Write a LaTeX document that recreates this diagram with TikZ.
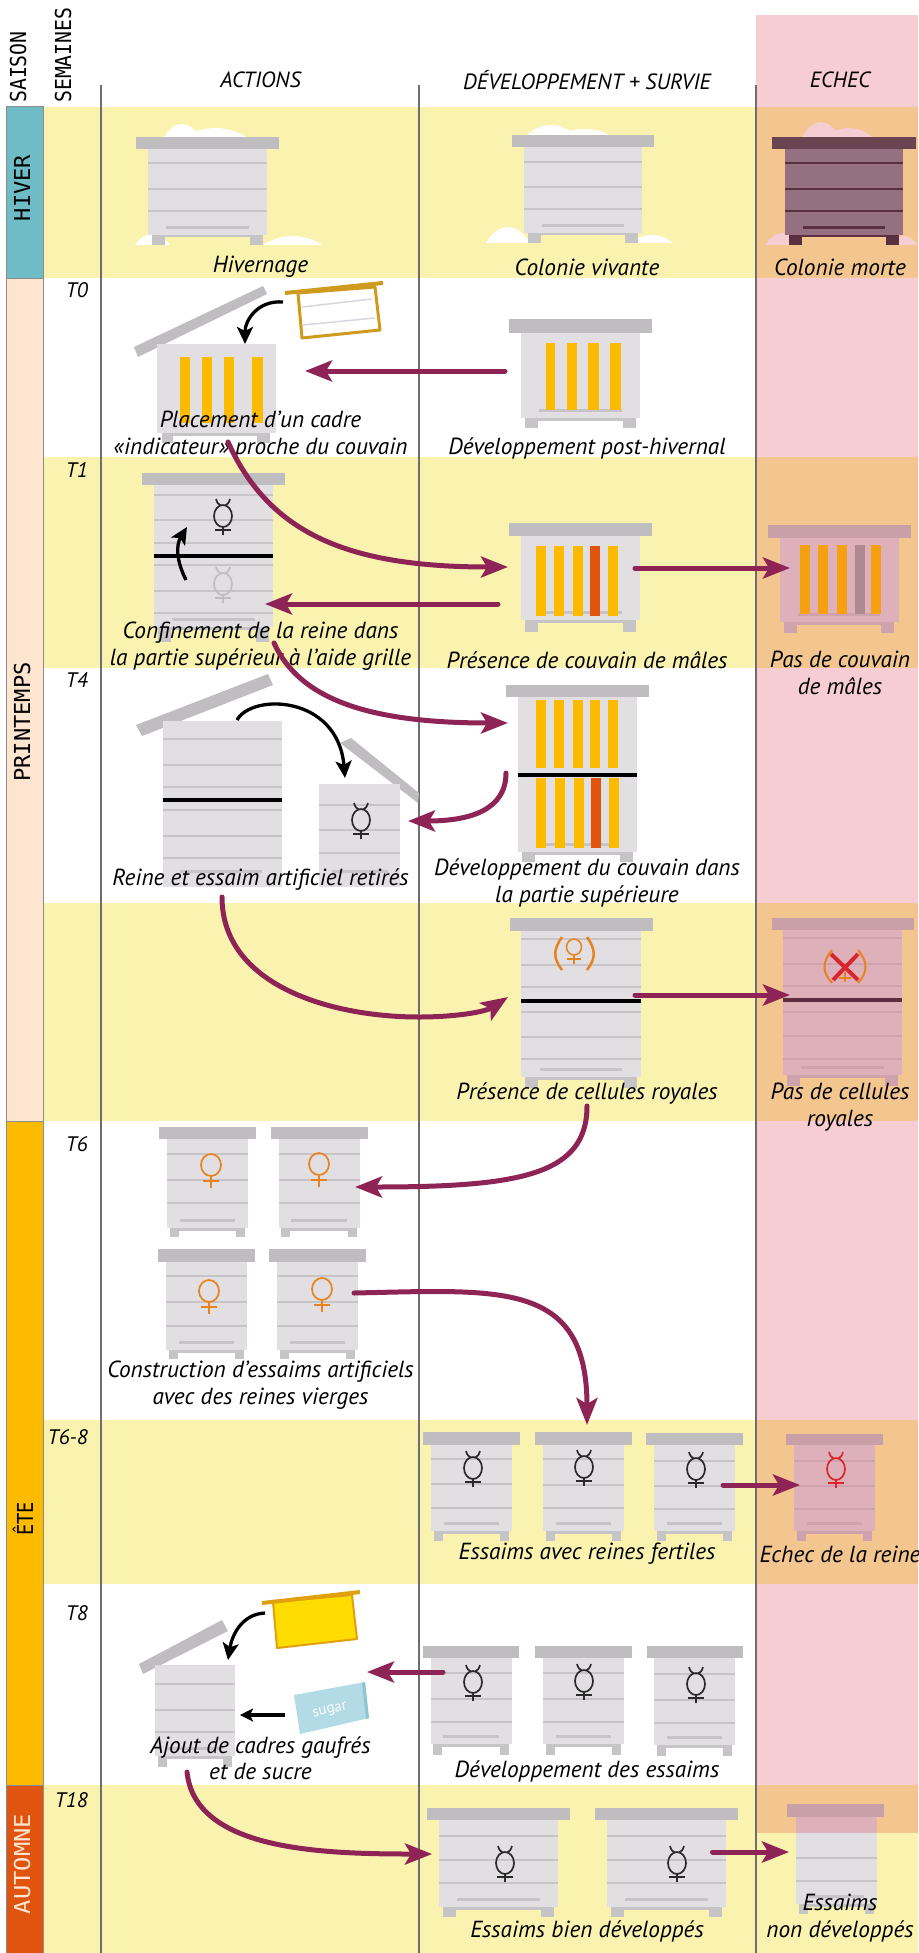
\documentclass[tikz,border=0pt]{standalone}
\usepackage{fontspec}
\usetikzlibrary{arrows.meta}
\newfontfamily\labf{PT Sans}
\newfontfamily\seasonf{DejaVu Sans Mono}
\newfontfamily\seasonn[FakeStretch=0.9]{DejaVu Sans Mono}
\newfontfamily\seasonw[FakeStretch=1.08]{DejaVu Sans Mono}
\newfontfamily\seasonc[FakeStretch=0.85]{DejaVu Sans Mono}
\definecolor{bandyellow}{HTML}{FAF3B0}
\definecolor{colpink}{HTML}{F5CDD2}
\definecolor{colorange}{HTML}{F3C58F}
\definecolor{purplearr}{HTML}{8E2455}
\definecolor{goldbar}{HTML}{FDBB00}
\definecolor{redbar}{HTML}{E05410}
\definecolor{hbody}{HTML}{E1DFE1}
\definecolor{hroof}{HTML}{BFBDBF}
\definecolor{hline}{HTML}{C6C4C6}
\definecolor{pbody}{HTML}{DDB0BA}
\definecolor{proof}{HTML}{C99FA8}
\definecolor{pline}{HTML}{CFA3AE}
\definecolor{dbody}{HTML}{947080}
\definecolor{droof}{HTML}{6A4450}
\definecolor{dline}{HTML}{5A3040}
\definecolor{orangesign}{HTML}{E8821E}
\definecolor{vline}{HTML}{6E6E70}
\definecolor{hbarteal}{HTML}{6FBCC6}
\definecolor{hbarpeach}{HTML}{FDE5D0}
\definecolor{goldframe}{HTML}{CF9B1E}
\definecolor{framegrey}{HTML}{D8D4E0}
\definecolor{orangebar}{HTML}{F5A010}
\definecolor{mauvebar}{HTML}{B08890}
\definecolor{crossred}{HTML}{D9262E}
\definecolor{waxyellow}{HTML}{FFDD00}
\definecolor{framegold}{HTML}{E0A010}
\definecolor{sugarblue}{HTML}{B3DBE6}
\definecolor{sugarside}{HTML}{8FC5D2}
\definecolor{signdark}{HTML}{2A2A2A}
\def\hvB{hbody}\def\hvR{hroof}\def\hvL{hline}
\tikzset{
  lab/.style={font=\labf\itshape\fontsize{23.3}{26.5}\selectfont,align=center,inner sep=0pt,text=black},
  hdrlab/.style={font=\labf\itshape\fontsize{22}{26}\selectfont,inner sep=0pt,text=black},
  weeklab/.style={font=\labf\itshape\fontsize{21}{26}\selectfont,anchor=east,inner sep=0pt},
  seasonlab/.style={font=\seasonf\fontsize{22}{25}\selectfont,rotate=90,inner sep=0pt},
  seasonbar/.style={draw=black!45,line width=1pt},
  parr/.style={draw=purplearr,line width=5pt,line cap=round,-{Stealth[length=27pt,width=21pt,inset=6pt]}},
  karr/.style={draw=black,line width=3.3pt,-{Stealth[length=17pt,width=16pt,inset=4pt]}},
  signline/.style={line width=1.7pt},
  gridline/.style={draw=vline,line width=1.5pt}
}
% cx, roof top, roof bottom, roof half width, body half width, body bottom, feet bottom, line list
\newcommand{\hive}[8]{%
  \fill[\hvB] ({#1-#5},#3) rectangle ({#1+#5},#6);
  \foreach \l in {#8} \fill[\hvL] ({#1-#5},{\l-1}) rectangle ({#1+#5},{\l+1});
  \fill[\hvL] ({#1-.69*#5},{#6-9}) rectangle ({#1+.69*#5},{#6-6});
  \fill[\hvL] ({#1-.93*#5},#6) rectangle ({#1+.93*#5},{#6+2.5});
  \fill[\hvL] ({#1-.93*#5},#6) rectangle ({#1-.71*#5},#7);
  \fill[\hvL] ({#1+.93*#5},#6) rectangle ({#1+.71*#5},#7);
  \fill[\hvR] ({#1-#4},#2) rectangle ({#1+#4},#3);
}
\newcommand{\hivebar}[5]{\fill[#5] (#1,#3) rectangle (#2,#4);}
\newcommand{\snowbump}[5]{\fill[#5] (#1,#3) .. controls ({#1+.3*(#2-#1)},{#3-1.33*#4}) and ({#2-.3*(#2-#1)},{#3-1.33*#4}) .. (#2,#3) -- cycle;}
\newcommand{\workersign}[3]{%
  \draw[#3,signline] (#1,{#2+17}) ellipse [x radius=9,y radius=11];
  \draw[#3,signline] ({#1-7},#2) .. controls ({#1-6},{#2+4}) and ({#1-4},{#2+6}) .. ({#1-2},{#2+6.5});
  \draw[#3,signline] ({#1+7},#2) .. controls ({#1+6},{#2+4}) and ({#1+4},{#2+6}) .. ({#1+2},{#2+6.5});
  \draw[#3,signline] (#1,{#2+28}) -- (#1,{#2+36});
  \draw[#3,signline] ({#1-8},{#2+31}) -- ({#1+8},{#2+31});
}
\newcommand{\femalesign}[3]{%
  \draw[#3,signline] (#1,{#2+11}) ellipse [x radius=10,y radius=11];
  \draw[#3,signline] (#1,{#2+22}) -- (#1,{#2+34});
  \draw[#3,signline] ({#1-8},{#2+27}) -- ({#1+8},{#2+27});
}
\begin{document}
\begin{tikzpicture}[x=1pt,y=-1pt]
\useasboundingbox (0,0) rectangle (918,1953);
\fill[white] (0,0) rectangle (918,1953);
% pink column
\fill[colpink] (756,15) rectangle (918,1785);
% bands
\foreach \a/\b in {107/278,457/668,903/1121,1420/1584,1785/1953}
  \fill[bandyellow] (43,\a) rectangle (756,\b);
\foreach \a/\b in {107/278,457/668,903/1121,1420/1584,1785/1833}
  \fill[colorange] (756,\a) rectangle (918,\b);
\fill[bandyellow] (756,1833) rectangle (918,1953);
% season bars
\draw[seasonbar,fill=hbarteal] (6,107) rectangle (43,278);
\draw[seasonbar,fill=hbarpeach] (6,278) rectangle (43,1121);
\draw[seasonbar,fill=goldbar] (6,1121) rectangle (43,1785);
\draw[seasonbar,fill=redbar] (6,1785) rectangle (43,1953);
\node[seasonlab,anchor=west,font=\seasonn\fontsize{22}{25}\selectfont] (saison) at (18,103) {SAISON};
\node[seasonlab,anchor=west,font=\seasonn\fontsize{22}{25}\selectfont] (semaines) at (63,103) {SEMAINES};
\node[seasonlab] (hiver) at (22,188) {HIVER};
\node[seasonlab] (printemps) at (22,722) {PRINTEMPS};
\node[seasonlab,font=\seasonc\fontsize{22}{25}\selectfont] (ete) at (23,1519) {ÊTE};
\node[seasonlab,text=hbarpeach,font=\seasonw\fontsize{22}{25}\selectfont] (automne) at (22,1864) {AUTOMNE};
% grid lines
\draw[gridline] (101,85) -- (101,1953);
\draw[gridline] (419,85) -- (419,1953);
\draw[gridline] (756,85) -- (756,1953);
% HIVER
\snowbump{164}{200}{137}{13}{white}\snowbump{185}{246}{137}{9}{white}
\snowbump{135}{170}{245}{11}{white}\snowbump{263}{322}{245}{9}{white}
\hive{207.5}{137}{149}{71.5}{59.5}{235}{245}{163,189,211}
\snowbump{527}{575}{135}{10}{white}\snowbump{560}{609}{135}{6}{white}
\snowbump{486}{530}{243}{16}{white}\snowbump{630}{673}{243}{8}{white}
\hive{583}{135}{147}{71}{59}{233}{243}{162,187,209}
\begin{scope}
\def\hvB{dbody}\def\hvR{droof}\def\hvL{dline}
\snowbump{802}{840}{137}{15}{colpink}\snowbump{825}{872}{137}{9}{colpink}
\snowbump{765}{800}{245}{12}{colpink}\snowbump{890}{918}{245}{9}{colpink}
\hive{844}{137}{149}{72}{59}{235}{245}{163,189,211}
\end{scope}
% T0
\fill[hroof] (134,347) -- (263,286) -- (267,294) -- (138,357) -- cycle;
\fill[hbody] (157,344) rectangle (276,433);
\fill[hline] (162,433) rectangle (173,443);
\fill[hline] (257,433) rectangle (270,443);
\fill[hline] (162,433) rectangle (270,436);
\hivebar{180}{190}{357}{423}{goldbar}\hivebar{202}{212}{357}{423}{goldbar}
\hivebar{224}{234}{357}{423}{goldbar}\hivebar{252}{263}{357}{423}{goldbar}
\filldraw[fill=white,draw=goldframe,line width=3pt,line join=round] (298,293) -- (375,287) -- (380,330) -- (302,338) -- cycle;
\draw[draw=goldframe,line width=4pt] (285,293) -- (383,283);
\draw[draw=framegrey,line width=1.5pt] (302,307) -- (372,299);
\draw[draw=framegrey,line width=1.5pt] (303,325) -- (375,318);
\coordinate (t0frame) at (283,302);
\coordinate (t0hive) at (245,344);
\draw[karr] (t0frame) .. controls (258,300) and (245,320) .. (t0hive);
\hive{580.5}{319}{333}{71.5}{59.5}{418}{428}{}
\hivebar{546}{555}{343}{410}{goldbar}\hivebar{567}{577}{343}{410}{goldbar}
\hivebar{588}{599}{343}{410}{goldbar}\hivebar{610}{621}{343}{410}{goldbar}
% T1
\hive{213.5}{473}{485}{71.5}{59.5}{627}{642}{495,520,543,565,591,613}
\hivebar{154}{273}{554}{558}{black}
\workersign{223}{499}{signdark}
\workersign{223}{567}{hroof}
\coordinate (t1a) at (186,580);
\coordinate (t1b) at (187,527);
\draw[karr] (t1a) .. controls (176,560) and (176,545) .. (t1b);
\hive{580.5}{523}{536}{71.5}{59.5}{620}{632}{}
\hivebar{536}{546}{546}{616}{goldbar}\hivebar{554}{564}{546}{616}{goldbar}
\hivebar{573}{583}{546}{616}{goldbar}\hivebar{590}{600}{546}{616}{redbar}\hivebar{608}{618}{546}{616}{goldbar}
\begin{scope}
\def\hvB{pbody}\def\hvR{proof}\def\hvL{pline}
\hive{839}{525}{538}{71.5}{59.5}{622}{633}{}
\hivebar{800}{810}{545}{614}{orangebar}\hivebar{818}{828}{545}{614}{orangebar}
\hivebar{837}{847}{545}{614}{orangebar}\hivebar{855}{865}{545}{614}{mauvebar}\hivebar{871}{881}{545}{614}{orangebar}
\end{scope}
% T4
\fill[hroof] (136,725) -- (268,674) -- (273,685) -- (142,736) -- cycle;
\fill[hbody] (163,721) rectangle (282,887);
\foreach \l in {739,765,787,810,836,858} \fill[hline] (163,{\l-1}) rectangle (282,{\l+1});
\fill[hline] (180,870) rectangle (262,873);
\hivebar{163}{282}{798}{802}{black}
\fill[hroof] (340,743) -- (351,738) -- (419,793) -- (418,803) -- cycle;
\fill[hbody] (319,784) rectangle (400,887);
\foreach \l in {805,830,853} \fill[hline] (319,{\l-1}) rectangle (400,{\l+1});
\fill[hline] (332,870) rectangle (388,873);
\workersign{361}{803}{signdark}
\coordinate (t4a) at (237,720);
\coordinate (t4b) at (345,778);
\draw[karr] (t4a) .. controls (252,693) and (338,695) .. (t4b);
\hive{577.5}{685}{697}{71.5}{59.5}{852}{862}{}
\foreach \x in {536,554,573,590,608} \hivebar{\x}{\x+10}{700}{768}{goldbar}
\hivebar{536}{546}{778}{848}{goldbar}\hivebar{555}{565}{778}{848}{goldbar}
\hivebar{574}{584}{778}{848}{goldbar}\hivebar{591}{601}{778}{848}{redbar}\hivebar{609}{619}{778}{848}{goldbar}
\hivebar{518}{637}{773}{777}{black}
% cellules
\hive{581}{918}{931}{71.5}{60}{1077}{1088}{939,965,987,1012,1037,1059}
\hivebar{521}{641}{999}{1003}{black}
\draw[orangesign,line width=1.5pt] (574,947) ellipse [x radius=7.5,y radius=8];
\draw[orangesign,line width=1.5pt] (574,955) -- (574,964);
\draw[orangesign,line width=1.5pt] (567,959) -- (581,959);
\draw[orangesign,line width=2.5pt] (562,937) .. controls (553,950) and (553,958) .. (562,970);
\draw[orangesign,line width=2.5pt] (587,937) .. controls (596,950) and (596,958) .. (587,970);
\begin{scope}
\def\hvB{pbody}\def\hvR{proof}\def\hvL{pline}
\hive{842.5}{918}{930}{71}{59.5}{1075}{1086}{938,964,986,1012,1036,1059}
\hivebar{783}{902}{998}{1002}{dline}
\draw[orangesign,line width=2pt] (832,950) .. controls (822,962) and (822,972) .. (832,983);
\draw[orangesign,line width=2pt] (858,950) .. controls (868,962) and (868,972) .. (858,983);
\draw[orangesign,line width=1.5pt] (845,972) -- (845,982);
\draw[orangesign,line width=1.5pt] (839,978) -- (851,978);
\draw[crossred,line width=4pt] (831,954) -- (858,980);
\draw[crossred,line width=4pt] (858,954) -- (833,980);
\end{scope}
% T6
\hive{207.5}{1127}{1139}{48.5}{40.5}{1228}{1237}{1154,1180,1203}
\hive{319}{1127}{1139}{48.5}{40.5}{1228}{1237}{1154,1180,1203}
\hive{206.5}{1249}{1262}{48.5}{40.5}{1350}{1359}{1276,1302,1326}
\hive{317.5}{1249}{1262}{48.5}{40.5}{1350}{1359}{1276,1302,1326}
\femalesign{211}{1154}{orangesign}
\femalesign{319}{1153}{orangesign}
\femalesign{209}{1280}{orangesign}
\femalesign{322}{1278}{orangesign}
% T6-8
\hive{471.5}{1432}{1445}{48.5}{40.5}{1531}{1541}{1459,1484,1508}
\hive{583.5}{1432}{1445}{48.5}{40.5}{1531}{1541}{1459,1485,1508}
\hive{694.5}{1433}{1445}{48.5}{40.5}{1531}{1541}{1461,1486,1509}
\workersign{473}{1451}{signdark}
\workersign{584}{1450}{signdark}
\workersign{696}{1452}{signdark}
\begin{scope}
\def\hvB{pbody}\def\hvR{proof}\def\hvL{pline}
\hive{834.5}{1434}{1445}{48.5}{40.5}{1531}{1541}{1461,1486,1509}
\workersign{836}{1452}{crossred}
\end{scope}
% T8
\fill[hroof] (139,1664) -- (222,1620) -- (228,1631) -- (143,1674) -- cycle;
\hive{195}{1665}{1665}{40}{40}{1756}{1767}{1684,1710,1732}
\filldraw[fill=waxyellow,draw=framegold,line width=2pt,line join=round] (273,1602) -- (352,1595) -- (357,1639) -- (277,1648) -- cycle;
\draw[framegold,line width=4pt] (262,1603) -- (360,1592);
\coordinate (t8a) at (265,1613);
\coordinate (t8b) at (228,1660);
\draw[karr] (t8a) .. controls (242,1614) and (232,1635) .. (t8b);
\fill[sugarblue] (294,1695) -- (365,1682) -- (369,1718) -- (300,1734) -- cycle;
\fill[sugarside] (362,1683) -- (365,1682) -- (369,1718) -- (366,1719) -- cycle;
\node[font=\labf\fontsize{15}{15}\selectfont,text=white,rotate=14,inner sep=0pt] (sugar) at (330,1711) {sugar};
\coordinate (t8c) at (285,1715);
\coordinate (t8d) at (240,1715);
\draw[black,line width=3.5pt,-{Stealth[length=13pt,width=13pt,inset=3pt]}] (t8c) -- (t8d);
\hive{471}{1646}{1657.5}{48}{40.5}{1744}{1755}{1673,1699,1722}
\hive{583.5}{1646}{1657.5}{48.5}{40.5}{1744}{1755}{1673,1699,1722}
\hive{694.5}{1646}{1657.5}{48}{40.5}{1745}{1756}{1674,1700,1723}
\workersign{473}{1665}{signdark}
\workersign{584}{1664}{signdark}
\workersign{696}{1667}{signdark}
% T18
\hive{498.5}{1808}{1820}{71.5}{59.5}{1907}{1917}{1836,1860,1883}
\hive{666.5}{1808}{1820}{71.5}{59.5}{1907}{1917}{1836,1860,1883}
\workersign{505}{1846}{signdark}
\workersign{677}{1846}{signdark}
\hive{836.5}{1817}{1817}{40.5}{40.5}{1904}{1914}{1858,1881}
\fill[pbody] (796,1817) rectangle (877,1833);
\fill[proof] (787,1804) rectangle (884,1817);
% headers
\node[hdrlab] (hactions) at (260.5,80) {ACTIONS};
\node[hdrlab] (hdev) at (587,80) {DÉVELOPPEMENT + SURVIE};
\node[hdrlab] (hechec) at (840,80) {ECHEC};
% weeks
\node[weeklab] (w0) at (88,290) {T0};
\node[weeklab] (w1) at (88,470) {T1};
\node[weeklab] (w4) at (88,680) {T4};
\node[weeklab] (w6) at (88,1144) {T6};
\node[weeklab] (w68) at (88,1437) {T6-8};
\node[weeklab] (w8) at (88,1613) {T8};
\node[weeklab] (w18) at (88,1800) {T18};
% labels
\node[lab] (l1) at (260.5,267) {Hivernage};
\node[lab] (l2) at (587,267) {Colonie vivante};
\node[lab] (l3) at (840,267) {Colonie morte};
\node[lab] (l4) at (260.5,435) {Placement d’un cadre\\«indicateur» proche du couvain};
\node[lab] (l5) at (587,448) {Développement post-hivernal};
\node[lab] (l6) at (260.5,646) {Confinement de la reine dans\\la partie supérieur à l’aide grille};
\node[lab] (l7) at (587,660) {Présence de couvain de mâles};
\node[lab] (l8) at (840,673) {Pas de couvain\\de mâles};
\node[lab] (l9) at (260.5,880) {Reine et essaim artificiel retirés};
\node[lab] (l10) at (587,883) {Développement du couvain dans\\la partie supérieure};
\node[lab] (l11) at (587,1093) {Présence de cellules royales};
\node[lab] (l12) at (840,1107) {Pas de cellules\\royales};
\node[lab] (l13) at (260.5,1385) {Construction d’essaims artificiels\\avec des reines vierges};
\node[lab] (l14) at (587,1554) {Essaims avec reines fertiles};
\node[lab] (l15) at (840,1554) {Echec de la reine};
\node[lab] (l16) at (260.5,1758) {Ajout de cadres gaufrés\\et de sucre};
\node[lab] (l17) at (587,1771) {Développement des essaims};
\node[lab] (l18) at (587,1931) {Essaims bien développés};
\node[lab] (l19) at (840,1918) {Essaims\\non développés};
% purple connectors
\coordinate (a1s) at (505,371); \coordinate (a1e) at (305,371);
\draw[parr] (a1s) -- (a1e);
\coordinate (a2s) at (228,442); \coordinate (a2e) at (508,567);
\draw[parr] (a2s) .. controls (270,535) and (350,567) .. (a2e);
\coordinate (a3s) at (635,568); \coordinate (a3e) at (790,568);
\draw[parr] (a3s) -- (a3e);
\coordinate (a4s) at (498,604); \coordinate (a4e) at (265,604);
\draw[parr] (a4s) -- (a4e);
\coordinate (a5s) at (274,643); \coordinate (a5e) at (508,723);
\draw[parr] (a5s) .. controls (300,700) and (370,723) .. (a5e);
\coordinate (a6s) at (506,773); \coordinate (a6e) at (408,821);
\draw[parr] (a6s) .. controls (506,810) and (470,821) .. (a6e);
\coordinate (a7s) at (222,897); \coordinate (a7e) at (508,997);
\draw[parr] (a7s) .. controls (222,985) and (330,1017) .. (419,1017) .. controls (455,1017) and (485,1012) .. (a7e);
\coordinate (a8s) at (635,995); \coordinate (a8e) at (790,995);
\draw[parr] (a8s) -- (a8e);
\coordinate (a9s) at (587,1106); \coordinate (a9e) at (355,1187);
\draw[parr] (a9s) .. controls (587,1175) and (520,1187) .. (a9e);
\coordinate (a10s) at (354,1293); \coordinate (a10e) at (587,1425);
\draw[parr] (a10s) .. controls (500,1290) and (587,1280) .. (a10e);
\coordinate (a11s) at (723,1485); \coordinate (a11e) at (800,1485);
\draw[parr] (a11s) -- (a11e);
\coordinate (a12s) at (443,1672); \coordinate (a12e) at (367,1672);
\draw[parr] (a12s) -- (a12e);
\coordinate (a13s) at (187,1772); \coordinate (a13e) at (432,1854);
\draw[parr] (a13s) .. controls (195,1850) and (320,1854) .. (a13e);
\coordinate (a14s) at (712.5,1852); \coordinate (a14e) at (789,1852);
\draw[parr] (a14s) -- (a14e);
\end{tikzpicture}
\end{document}
